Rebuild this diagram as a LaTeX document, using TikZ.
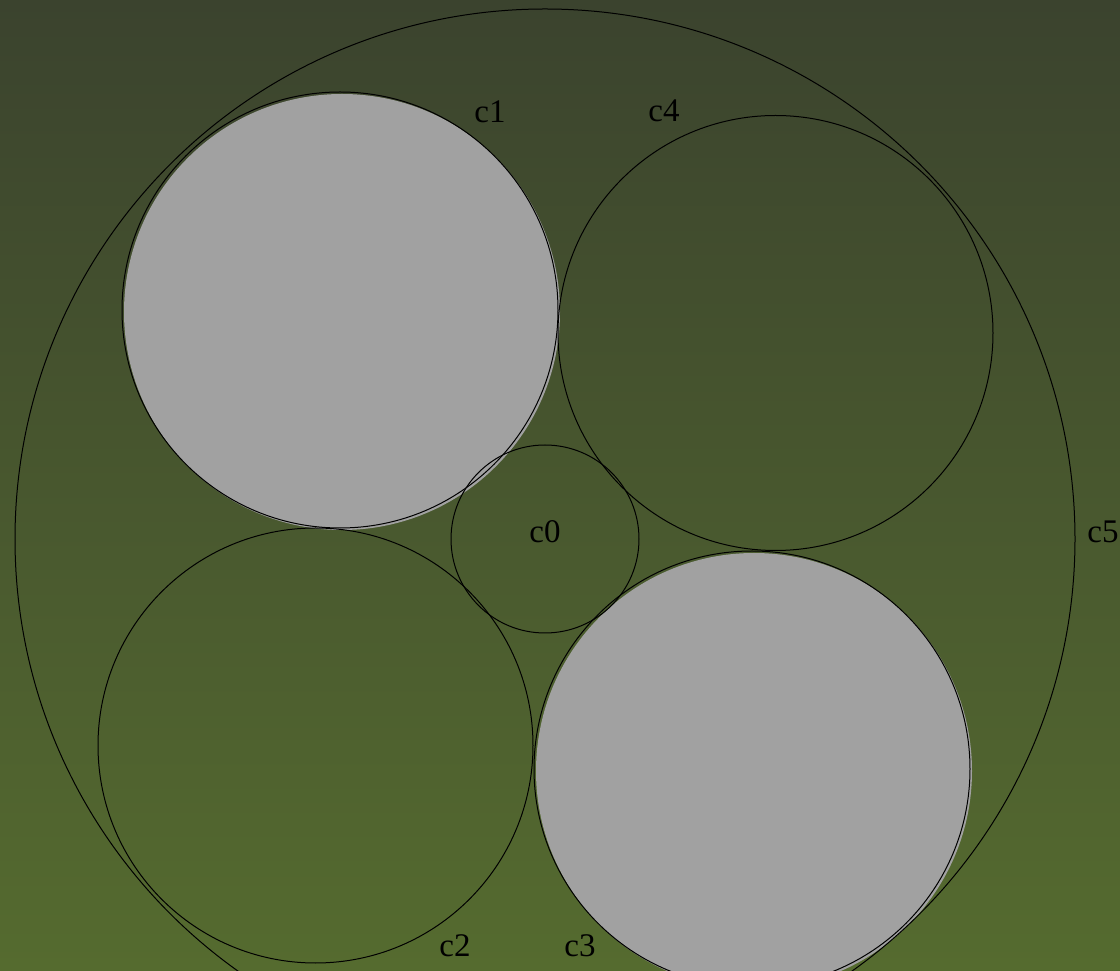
\documentclass[tikz,border=0pt]{standalone}
\usepackage{fontspec}
\setmainfont{Liberation Serif}
\definecolor{bgtop}{HTML}{3B432E}
\definecolor{bgbot}{HTML}{556B2F}
\definecolor{discgray}{HTML}{A1A1A1}
\begin{document}
\begin{tikzpicture}[x=1pt,y=1pt,
  ring/.style={circle,draw=black,line width=1pt,inner sep=0pt,outer sep=0pt,minimum size=#1},
  disc/.style={circle,fill=discgray,draw=none,inner sep=0pt,outer sep=0pt,minimum size=#1},
  lbl/.style={anchor=base,inner sep=0pt,font=\fontsize{33}{40}\selectfont}]
\useasboundingbox (0,0) rectangle (1120,970);
\shade[top color=bgtop,bottom color=bgbot] (0,0) rectangle (1120,970);
\begin{scope}
\clip (0,0) rectangle (1120,970);
\node[disc=436pt] (f1) at (342,658) {};
\node[disc=436pt] (f3) at (754,199) {};
\node[ring=1060pt] (c5) at (545,431) {};
\node[ring=188pt] (c0) at (545,431) {};
\node[ring=436pt] (c1) at (340,660) {};
\node[ring=435pt] (c4) at (775.5,637) {};
\node[ring=435pt] (c2) at (315.5,224.5) {};
\node[ring=436pt] (c3) at (752,201) {};
\end{scope}
\node[lbl] (l1) at (490,847) {c1};
\node[lbl] (l4) at (664,848) {c4};
\node[lbl] (l0) at (545,427) {c0};
\node[lbl] (l5) at (1103,427) {c5};
\node[lbl] (l2) at (455,13) {c2};
\node[lbl] (l3) at (580,13) {c3};
\end{tikzpicture}
\end{document}
